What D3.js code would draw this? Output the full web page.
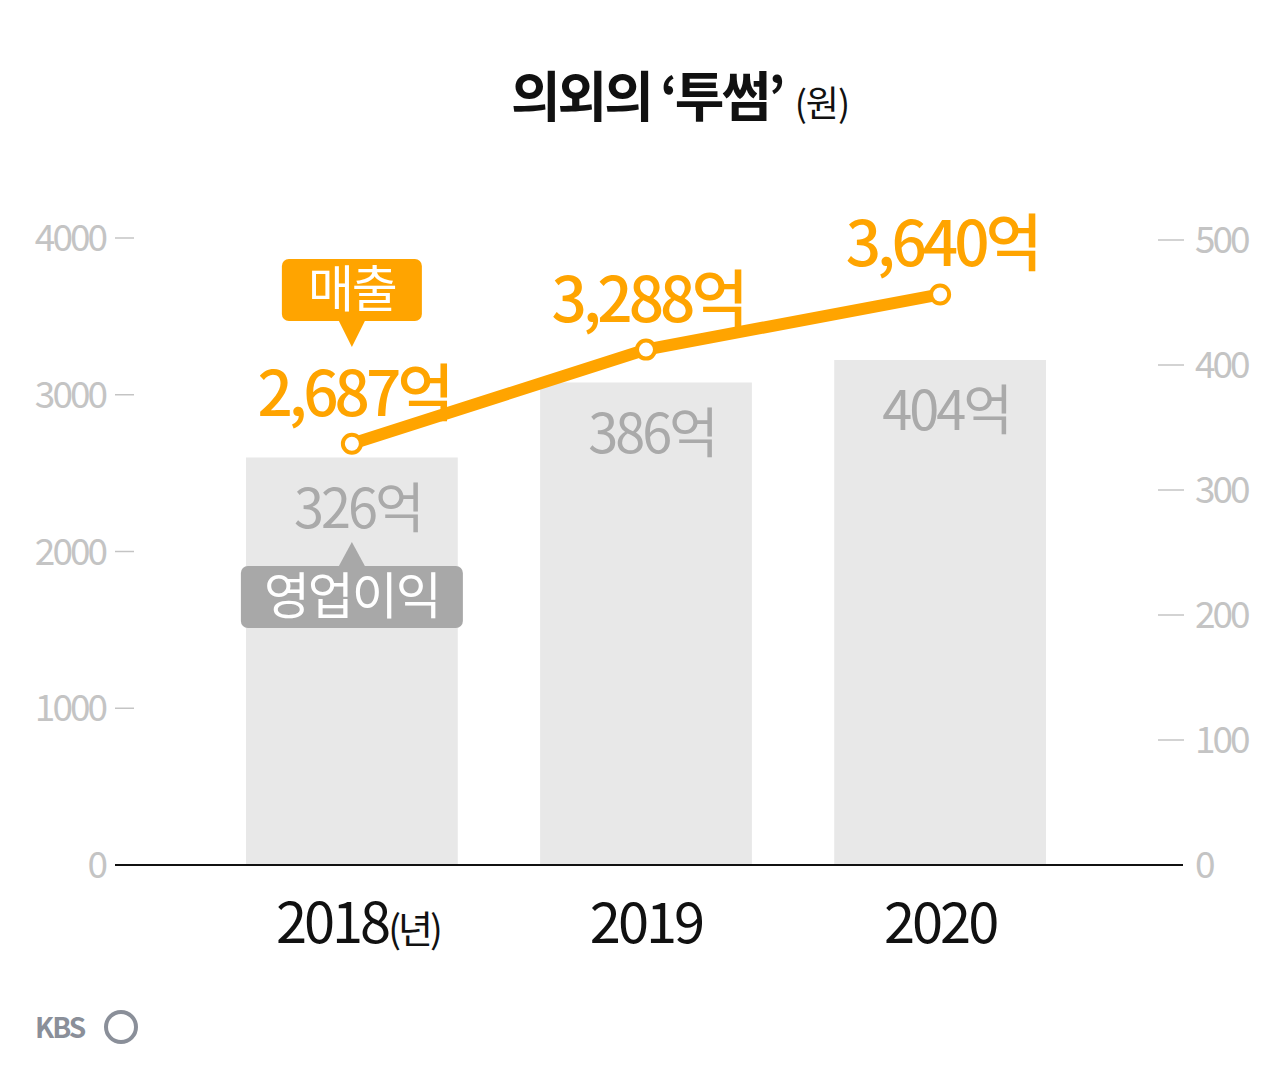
<!DOCTYPE html>
<html><head><meta charset="utf-8">
<script src="https://cdn.jsdelivr.net/npm/d3@7"></script>
<style>body{margin:0;background:#fff}text{font-family:"Noto Sans CJK KR","Noto Sans",sans-serif}</style>
</head><body><div id="chart"></div>
<script>
var years = ["2018", "2019", "2020"];
var yearLabels = ["2018(년)", "2019", "2020"];
var revenue = [2687, 3288, 3640];       // 매출 (left axis)
var profit = [326, 386, 404];           // 영업이익 (right axis)
var leftTicks = [0, 1000, 2000, 3000, 4000];
var rightTicks = [0, 100, 200, 300, 400, 500];

var svg = d3.select("#chart").append("svg").attr("width", 1280).attr("height", 1080);

var x = d3.scaleBand().domain(years).range([246, 1046]).paddingInner(0.28).paddingOuter(0);
var yL = d3.scaleLinear().domain([0, 4000]).range([865, 238]);
var yR = d3.scaleLinear().domain([0, 500]).range([865, 240]);
var orange = "#ffa400", grayText = "#aaaaaa";

svg.append("text").attr("x", 680).attr("y", 117).attr("text-anchor", "middle")
    .attr("font-size", 54).attr("font-weight", 700).attr("fill", "#111").attr("letter-spacing", -3)
    .text("의외의 ‘투썸’")
    .append("tspan").attr("font-size", 36).attr("font-weight", 400).attr("dx", 12).attr("letter-spacing", -1).text("(원)");

// bars
svg.selectAll("rect.bar").data(profit).enter().append("rect")
    .attr("x", function(d, i){ return x(years[i]); })
    .attr("width", x.bandwidth())
    .attr("y", function(d){ return yR(d); })
    .attr("height", function(d){ return 865 - yR(d); })
    .attr("fill", "#e8e8e8");

svg.selectAll("text.pl").data(profit).enter().append("text")
    .attr("x", function(d, i){ return x(years[i]) + x.bandwidth() / 2 + 6; })
    .attr("y", function(d){ return yR(d) + 70; })
    .attr("text-anchor", "middle").attr("font-size", 54).attr("fill", grayText)
    .attr("letter-spacing", -3)
    .text(function(d){ return d + "억"; });

// left axis
var la = svg.append("g");
leftTicks.forEach(function(t){
    la.append("text").attr("x", 105).attr("y", yL(t) + 13).attr("text-anchor", "end")
        .attr("font-size", 37).attr("fill", "#c4c4c4").attr("letter-spacing", -3).text(t);
    if (t > 0) la.append("line").attr("x1", 115).attr("x2", 134).attr("y1", yL(t)).attr("y2", yL(t))
        .attr("stroke", "#c4c4c4").attr("stroke-width", 1.5);
});
var ra = svg.append("g");
rightTicks.forEach(function(t){
    ra.append("text").attr("x", 1195).attr("y", yR(t) + 13)
        .attr("font-size", 37).attr("fill", "#c4c4c4").attr("letter-spacing", -3).text(t);
    if (t > 0) ra.append("line").attr("x1", 1158).attr("x2", 1184).attr("y1", yR(t)).attr("y2", yR(t))
        .attr("stroke", "#c4c4c4").attr("stroke-width", 1.5);
});
svg.append("line").attr("x1", 115).attr("x2", 1183).attr("y1", 865).attr("y2", 865)
    .attr("stroke", "#111").attr("stroke-width", 2);

svg.selectAll("text.xl").data(yearLabels).enter().append("text")
    .attr("x", function(d, i){ return x(years[i]) + x.bandwidth() / 2 + (i == 0 ? 6 : 0); })
    .attr("y", 943).attr("text-anchor", "middle").attr("font-size", 56).attr("fill", "#111")
    .attr("letter-spacing", -3)
    .text(function(d){ return d.replace("(년)", ""); })
    .filter(function(d, i){ return i == 0; })
    .append("tspan").attr("font-size", 38).text("(년)");

// line
var line = d3.line().x(function(d, i){ return x(years[i]) + x.bandwidth() / 2; }).y(function(d){ return yL(d); });
svg.append("path").datum(revenue).attr("d", line).attr("fill", "none")
    .attr("stroke", orange).attr("stroke-width", 12);
svg.selectAll("circle").data(revenue).enter().append("circle")
    .attr("cx", function(d, i){ return x(years[i]) + x.bandwidth() / 2; })
    .attr("cy", function(d){ return yL(d); }).attr("r", 9)
    .attr("fill", "#fff").attr("stroke", orange).attr("stroke-width", 4);
svg.selectAll("text.rl").data(revenue).enter().append("text")
    .attr("x", function(d, i){ return x(years[i]) + x.bandwidth() / 2 + 2; })
    .attr("y", function(d){ return yL(d) - 28; })
    .attr("text-anchor", "middle").attr("font-size", 62).attr("font-weight", 500)
    .attr("fill", orange).attr("letter-spacing", -4)
    .text(function(d){ return d3.format(",")(d) + "억"; });

// legend tags
function tag(cx, y, w, h, fill, txt, up) {
    var g = svg.append("g");
    g.append("rect").attr("x", cx - w / 2).attr("y", y).attr("width", w).attr("height", h).attr("rx", 7).attr("fill", fill);
    var p = up ? [[cx - 13, y], [cx + 13, y], [cx, y - 24]] : [[cx - 13, y + h], [cx + 13, y + h], [cx, y + h + 26]];
    g.append("path").attr("d", d3.line()(p)).attr("fill", fill);
    g.append("text").attr("x", cx).attr("y", y + h / 2 + 17).attr("text-anchor", "middle")
        .attr("font-size", 50).attr("fill", "#fff").attr("letter-spacing", -2).text(txt);
}
var c0 = x(years[0]) + x.bandwidth() / 2;
tag(c0, 259, 140, 62, orange, "매출", false);
tag(c0, 566, 222, 62, "#a8a8a8", "영업이익", true);

svg.append("text").attr("x", 35).attr("y", 1038).attr("font-size", 28).attr("font-weight", 700)
    .attr("fill", "#8a8f99").attr("letter-spacing", -2).text("KBS");
svg.append("circle").attr("cx", 121).attr("cy", 1027).attr("r", 15).attr("fill", "none")
    .attr("stroke", "#8a8f99").attr("stroke-width", 4);
</script></body></html>
